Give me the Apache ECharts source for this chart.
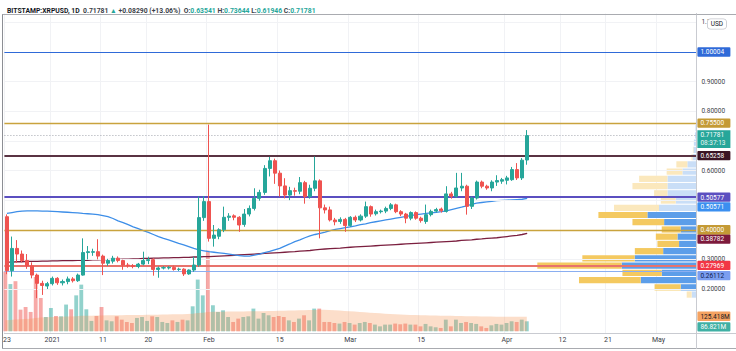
<!DOCTYPE html>
<html>
<head>
<meta charset="utf-8">
<script src="https://cdn.jsdelivr.net/npm/echarts@6.0.0/dist/echarts.min.js"></script>
<style>
html,body{margin:0;padding:0;background:#ffffff;}
#chart{width:736px;height:351px;}
</style>
</head>
<body>
<div id="chart"></div>
<script>
// ================= DATA =================
const firstDay = '2020-12-23';
const dayCount = 137; // visible days on the time axis (Dec 23 .. May 8)
const timeTickLabels = {
  '2020-12-23': '23', '2021-01-01': '2021', '2021-01-11': '11', '2021-01-20': '20',
  '2021-02-01': 'Feb', '2021-02-15': '15', '2021-03-01': 'Mar', '2021-03-15': '15',
  '2021-04-01': 'Apr', '2021-04-12': '12', '2021-04-21': '21', '2021-05-01': 'May'
};
// [open, close, low, high] per day starting Dec 23 2020
const ohlc = [
  [.444,.262,.250,.452],[.262,.337,.242,.377],[.337,.318,.288,.365],[.318,.296,.290,.330],[.296,.278,.268,.318],
  [.278,.247,.236,.290],[.247,.219,.169,.252],[.219,.212,.180,.228],[.210,.218,.200,.224],[.218,.236,.212,.242],
  [.236,.221,.214,.240],[.221,.225,.212,.232],[.225,.234,.216,.242],[.234,.228,.222,.240],[.228,.247,.224,.252],
  [.247,.323,.245,.371],[.323,.326,.300,.345],[.324,.326,.312,.336],[.326,.311,.300,.368],[.311,.287,.247,.316],
  [.287,.296,.278,.302],[.294,.304,.286,.312],[.304,.296,.290,.310],[.296,.281,.265,.299],[.281,.279,.272,.288],
  [.279,.276,.270,.284],[.276,.284,.270,.288],[.284,.296,.280,.326],[.296,.299,.284,.309],[.299,.266,.245,.304],
  [.266,.271,.238,.276],[.271,.272,.266,.277],[.271,.273,.266,.277],[.273,.266,.262,.279],[.266,.267,.261,.272],
  [.267,.251,.244,.270],[.251,.264,.248,.266],[.264,.281,.258,.309],[.281,.441,.275,.512],[.441,.495,.430,.514],
  [.495,.371,.360,.755],[.371,.382,.343,.416],[.378,.400,.368,.405],[.400,.442,.392,.478],[.442,.446,.430,.456],
  [.447,.442,.432,.452],[.442,.416,.393,.446],[.418,.453,.410,.470],[.453,.472,.445,.482],[.472,.506,.465,.540],
  [.506,.526,.498,.535],[.526,.607,.518,.618],[.607,.633,.580,.646],[.633,.591,.555,.640],[.591,.548,.512,.600],
  [.548,.517,.506,.574],[.517,.532,.500,.545],[.532,.530,.515,.542],[.530,.559,.520,.578],[.559,.512,.488,.565],
  [.512,.540,.505,.552],[.540,.565,.530,.647],[.565,.474,.371,.570],[.474,.467,.455,.485],[.467,.433,.428,.478],
  [.433,.427,.415,.440],[.428,.435,.420,.442],[.435,.414,.393,.440],[.414,.442,.410,.446],[.442,.433,.426,.448],
  [.433,.446,.428,.452],[.446,.478,.440,.495],[.478,.453,.444,.482],[.454,.461,.448,.468],[.461,.463,.455,.468],
  [.463,.472,.456,.478],[.472,.484,.466,.490],[.484,.461,.456,.488],[.461,.453,.446,.466],[.453,.439,.422,.457],
  [.439,.458,.432,.462],[.458,.439,.434,.462],[.439,.431,.424,.444],[.428,.451,.420,.485],[.451,.462,.445,.468],
  [.463,.468,.458,.474],[.470,.464,.458,.475],[.462,.521,.458,.547],[.521,.513,.505,.528],[.513,.541,.508,.592],
  [.541,.547,.530,.592],[.547,.479,.451,.552],[.479,.507,.470,.512],[.507,.561,.502,.566],[.561,.547,.540,.566],
  [.547,.541,.535,.552],[.541,.561,.530,.567],[.561,.566,.548,.584],[.564,.569,.555,.575],[.567,.575,.553,.582],
  [.569,.603,.565,.612],[.603,.575,.568,.625],[.575,.63491,.568,.642],[.63541,.71781,.61946,.73644]
];
// volume, millions
const volume = [
  520,410,435,188,211,168,471,289,124,202,
  133,130,232,191,312,405,191,90,133,211,
  95,87,130,101,81,72,116,124,90,130,
  124,81,72,95,81,101,95,217,449,312,
  700,226,168,182,124,81,110,124,130,197,
  110,159,139,124,133,124,95,81,110,139,
  95,197,197,81,81,72,67,81,72,58,
  72,81,72,58,43,58,58,67,61,67,
  58,58,43,64,43,35,29,101,43,101,
  72,81,72,64,43,29,52,64,58,72,
  87,81,101,86.821
];
// volume moving average, millions
const volumeMA = [
  95,98,102,104,106,110,116,120,122,124,
  125,126,128,129,131,135,136,136,137,138,
  139,139,140,140,141,141,142,142,143,144,
  144,145,146,147,148,149,150,152,158,162,
  168,169,170,170,171,171,172,172,173,173,
  174,175,176,177,178,179,180,181,182,183,
  184,185,186,186,185,183,180,177,174,171,
  168,165,162,159,156,153,150,148,146,144,
  142,141,140,139,138,137,136,135,134,133,
  132,131,130,130,129,129,128,127,127,126,
  126,125.8,125.6,125.418
];
// blue moving average
const maFast = [
  .455,.458,.461,.463,.464,.464,.464,.463,.463,.462,
  .461,.460,.459,.458,.457,.455,.454,.453,.451,.448,
  .444,.438,.430,.424,.417,.410,.404,.397,.391,.384,
  .377,.371,.366,.360,.354,.349,.343,.337,.332,.329,
  .326,.324,.322,.320,.318,.315,.313,.311,.311,.314,
  .318,.323,.327,.332,.337,.345,.352,.360,.366,.373,
  .379,.384,.388,.392,.397,.401,.404,.407,.410,.413,
  .417,.420,.424,.427,.430,.433,.436,.439,.442,.445,
  .448,.451,.453,.455,.457,.459,.461,.464,.468,.472,
  .476,.481,.486,.490,.492,.494,.496,.498,.499,.500,
  .501,.502,.503,.50571
];
// maroon moving average
const maSlow = [
  .291,.291,.292,.292,.293,.293,.293,.294,.294,.295,
  .295,.296,.296,.296,.297,.297,.297,.298,.298,.299,
  .299,.300,.300,.301,.301,.302,.302,.303,.303,.304,
  .304,.305,.305,.306,.306,.307,.307,.308,.308,.309,
  .309,.310,.311,.312,.313,.314,.315,.316,.317,.318,
  .319,.320,.321,.322,.323,.324,.325,.326,.328,.329,
  .330,.332,.334,.335,.336,.337,.338,.340,.341,.342,
  .343,.344,.345,.346,.347,.348,.349,.350,.351,.352,
  .353,.354,.355,.356,.357,.358,.359,.360,.361,.362,
  .364,.365,.366,.368,.369,.371,.372,.373,.375,.377,
  .379,.381,.384,.38782
];
const priceGridTicks = [0.2,0.3,0.4,0.5,0.6,0.7,0.8,0.9,1.0,1.1];
const priceLabelTicks = [0.2,0.3,0.6,0.8,0.9,1.1]; // the ones not hidden by tags
const levelValues = [1.00004, 0.755, 0.65258, 0.50577, 0.40000, 0.27969, 0.26112];
const lastPrice = 0.71781;
const countdown = '08:37:13';
// visible-range volume profile (24 rows between range low and high), relative units
const profileRange = [0.169, 0.755];
const profileUp   = [3.0, 9.9,35.0,21.8,47.0,38.8,20.9,10.9,11.9, 9.9,20.3,30.8,23.5,13.0,18.2,18.2,18.2, 8.8,5.7,2.5,1.9,1.6,0.9,0.6];
const profileDown = [3.1,16.4,38.8,24.7,53.0,32.9,17.8,13.6,13.6,11.9,19.9,30.8,28.3, 9.4, 8.4,22.0,17.8, 9.9,6.9,0.6,0.3,0,0,0];
const valueAreaRows = [1, 11];
const header = {
  symbol: 'BITSTAMP:XRPUSD, 1D', last: '0.71781', change: '+0.08290 (+13.06%)',
  o: '0.63541', h: '0.73644', l: '0.61946', c: '0.71781'
};

// ================= STYLE / LAYOUT =================
const FONT = 'Roboto, "Liberation Sans", Arial, sans-serif';
const UP = '#26a69a', DOWN = '#ef5350';
const levelLine = [
  {color:'#2f6ad8', width:1.2}, {color:'#c9a33d', width:1.4}, {color:'#5a3343', width:1.8},
  {color:'#5b4fc0', width:1.8}, {color:'#c9a33d', width:1.4}, {color:'#e8736c', width:2.2}, {color:'#8aaef0', width:1.2}
];
const levelTag = [
  {bg:'#2f6ad8', fg:'#ffffff', dy:0}, {bg:'#c49a35', fg:'#ffffff', dy:0}, {bg:'#3b1525', fg:'#ffffff', dy:0},
  {bg:'#5b4fc0', fg:'#ffffff', dy:0}, {bg:'#c49a35', fg:'#ffffff', dy:0}, {bg:'#f23645', fg:'#ffffff', dy:0},
  {bg:'#7b9ef0', fg:'#0d1b4f', dy:4.3}
];
const GRID_LEFT = 2.8, GRID_W = 693.6, PRICE_TOP = 13.49, PRICE_H = 319.95;
const PRICE_MIN = 0.05, PRICE_MAX = 1.13;
const VOL_BOTTOM = 19.7, VOL_H = 100, VOL_MAX = 868;
const PROFILE_MAX = 436;
const TAG_FONT = 6.5;

// tag on the price scale: a spacer line shifts the tag down (dy>0) or up (dy<0)
function axisTag(text, bg, fg, dy) {
  const rich = {
    v: {fontFamily: FONT, fontSize: TAG_FONT, color: fg, backgroundColor: bg, padding: [1.5, 3, 0.8, 3],
        width: 27, borderRadius: 1}
  };
  let fmt = '{v|' + text + '}';
  if (dy > 0) { rich.s = {fontSize: 1, lineHeight: 2 * dy}; fmt = '{s| }\n' + fmt; }
  if (dy < 0) { rich.s = {fontSize: 1, lineHeight: -2 * dy}; fmt = fmt + '\n{s| }'; }
  return {show: true, position: 'end', distance: 1, formatter: fmt, rich: rich};
}
const hiddenLine = {width: 0, color: 'rgba(0,0,0,0)'};

// ================= BUILD =================
const categories = [];
{
  const t0 = Date.parse(firstDay + 'T00:00:00Z');
  for (let i = 0; i < dayCount; i++) categories.push(new Date(t0 + i * 864e5).toISOString().slice(0, 10));
}
const isTick = (idx, val) => Object.prototype.hasOwnProperty.call(timeTickLabels, val);

const levelMarks = levelValues.map((v, i) => ({
  yAxis: v,
  lineStyle: {color: levelLine[i].color, width: levelLine[i].width, type: 'solid'},
  label: axisTag(v.toFixed(5), levelTag[i].bg, levelTag[i].fg, levelTag[i].dy)
}));
// current price: two-line tag, first line centred on the price
levelMarks.push({
  yAxis: lastPrice,
  lineStyle: {color: '#a3a6ae', width: 1, type: [1, 2]},
  label: {
    show: true, position: 'end', distance: 1,
    formatter: '{s| }\n{v|' + lastPrice.toFixed(5) + '}\n{c|' + countdown + '}',
    rich: {
      s: {fontSize: 1, lineHeight: 8.3},
      v: {fontFamily: FONT, fontSize: TAG_FONT, color: '#ffffff', backgroundColor: UP, padding: [1.5, 3, 0.3, 3], width: 27},
      c: {fontFamily: FONT, fontSize: TAG_FONT, color: '#e8f6f4', backgroundColor: UP, padding: [0.3, 3, 1.5, 3], width: 27}
    }
  }
});

const candleData = ohlc.map(d => [d[0], d[1], d[2], d[3]]);
const volData = volume.map((v, i) => ({
  value: v,
  itemStyle: {color: ohlc[i][1] >= ohlc[i][0] ? 'rgba(38,166,154,0.5)' : 'rgba(239,83,80,0.5)'}
}));

const rowStep = (profileRange[1] - profileRange[0]) / profileUp.length;
const profileData = profileUp.map((u, i) => [
  profileRange[0] + i * rowStep, profileRange[0] + (i + 1) * rowStep, u, profileDown[i],
  (i >= valueAreaRows[0] && i <= valueAreaRows[1]) ? 1 : 0
]);

const lastVol = volume[volume.length - 1];
const lastVolMA = volumeMA[volumeMA.length - 1];

const chart = echarts.init(document.getElementById('chart'), null, {renderer: 'svg', width: 736, height: 351});

const option = {
  animation: false,
  backgroundColor: '#ffffff',
  title: {
    left: 2, top: 2.5,
    text: '{b|' + header.symbol + '}  {d|' + header.last + '} {g|▲} {d|' + header.change + '}  ' +
          '{d|O:}{g|' + header.o + '} {d|H:}{g|' + header.h + '} {d|L:}{g|' + header.l + '} {d|C:}{g|' + header.c + '}',
    textStyle: {
      fontFamily: FONT, fontSize: 6.8,
      rich: {
        b: {fontFamily: FONT, fontSize: 6.8, fontWeight: 'bold', color: '#131722'},
        d: {fontFamily: FONT, fontSize: 6.8, color: '#3b3e47'},
        g: {fontFamily: FONT, fontSize: 6.8, color: UP}
      }
    }
  },
  grid: [
    {left: GRID_LEFT, top: PRICE_TOP, width: GRID_W, height: PRICE_H},
    {left: GRID_LEFT, bottom: VOL_BOTTOM, width: GRID_W, height: VOL_H},
    {left: GRID_LEFT, top: PRICE_TOP, width: GRID_W, height: PRICE_H}
  ],
  xAxis: [
    {
      type: 'category', gridIndex: 0, data: categories, boundaryGap: true,
      axisLine: {show: true, lineStyle: {color: '#c9cbd1'}},
      axisTick: {show: false},
      axisLabel: {
        interval: isTick, formatter: v => timeTickLabels[v] || '', fontFamily: FONT, fontSize: 7,
        color: '#3b3e47', margin: 3.5
      },
      splitLine: {show: true, interval: isTick, lineStyle: {color: '#f1f2f5', width: 1}}
    },
    {type: 'category', gridIndex: 1, data: categories, boundaryGap: true, show: false},
    {type: 'value', gridIndex: 2, min: 0, max: PROFILE_MAX, inverse: true, show: false}
  ],
  yAxis: [
    {
      type: 'value', gridIndex: 0, position: 'right', min: PRICE_MIN, max: PRICE_MAX, scale: true,
      axisLine: {show: true, lineStyle: {color: '#c9cbd1'}},
      axisTick: {show: false},
      axisLabel: {
        customValues: priceLabelTicks, formatter: v => v.toFixed(5), fontFamily: FONT, fontSize: TAG_FONT,
        color: '#3b3e47', margin: 5
      },
      splitLine: {show: false}
    },
    {type: 'value', gridIndex: 1, min: 0, max: VOL_MAX, show: false},
    {type: 'value', gridIndex: 2, min: PRICE_MIN, max: PRICE_MAX, show: false}
  ],
  series: [
    { // horizontal price grid lines
      type: 'line', xAxisIndex: 0, yAxisIndex: 0, data: [], silent: true, z: 0,
      markLine: {
        symbol: 'none', silent: true, label: {show: false},
        lineStyle: {color: '#f1f2f5', width: 1, type: 'solid'},
        data: priceGridTicks.map(v => ({yAxis: v}))
      }
    },
    {
      type: 'custom', xAxisIndex: 2, yAxisIndex: 2, data: profileData, silent: true, z: 1, clip: false,
      encode: {x: [2, 3], y: [0, 1]},
      renderItem: (params, api) => {
        const lo = api.value(0), hi = api.value(1), up = api.value(2), dn = api.value(3), va = api.value(4);
        const a = api.coord([0, hi]);
        const b = api.coord([up, lo]);
        const c = api.coord([up + dn, lo]);
        const top = a[1] + 0.5, h = Math.max(b[1] - a[1] - 1, 0.5);
        return {type: 'group', children: [
          {type: 'rect', shape: {x: b[0], y: top, width: a[0] - b[0], height: h},
           style: {fill: va ? '#5c9ee9' : '#c9def7'}},
          {type: 'rect', shape: {x: c[0], y: top, width: b[0] - c[0], height: h},
           style: {fill: va ? '#f4c960' : '#fbe8bd'}}
        ]};
      }
    },
    {
      type: 'bar', xAxisIndex: 1, yAxisIndex: 1, data: volData, barWidth: '76%', silent: true, z: 2,
      markLine: {
        symbol: 'none', silent: true,
        data: [{yAxis: lastVol, lineStyle: hiddenLine, label: axisTag(lastVol.toFixed(3) + 'M', '#3fb0a4', '#ffffff', 5.6)}]
      }
    },
    {
      type: 'line', xAxisIndex: 1, yAxisIndex: 1, data: volumeMA, symbol: 'none', silent: true, z: 3,
      lineStyle: {width: 0, color: 'rgba(0,0,0,0)'},
      areaStyle: {color: 'rgba(245,150,85,0.45)'},
      markLine: {
        symbol: 'none', silent: true,
        data: [{yAxis: lastVolMA, lineStyle: hiddenLine, label: axisTag(lastVolMA.toFixed(3) + 'M', '#f4a261', '#131722', -0.6)}]
      }
    },
    {
      type: 'line', xAxisIndex: 0, yAxisIndex: 0, data: maSlow, symbol: 'none', silent: true, z: 4,
      lineStyle: {color: '#7b1f3f', width: 1.3},
      markLine: {
        symbol: 'none', silent: true,
        data: [{yAxis: maSlow[maSlow.length - 1], lineStyle: hiddenLine,
                label: axisTag(maSlow[maSlow.length - 1].toFixed(5), '#7d1a3c', '#ffffff', 6.3)}]
      }
    },
    {
      type: 'line', xAxisIndex: 0, yAxisIndex: 0, data: maFast, symbol: 'none', silent: true, z: 4,
      lineStyle: {color: '#3d8ee8', width: 1.3},
      markLine: {
        symbol: 'none', silent: true,
        data: [{yAxis: maFast[maFast.length - 1], lineStyle: hiddenLine,
                label: axisTag(maFast[maFast.length - 1].toFixed(5), '#3b8ff0', '#ffffff', 9.8)}]
      }
    },
    {
      type: 'candlestick', xAxisIndex: 0, yAxisIndex: 0, data: candleData, barWidth: '70%', silent: true, z: 5,
      itemStyle: {color: UP, color0: DOWN, borderColor: UP, borderColor0: DOWN, borderWidth: 1},
      markLine: {symbol: 'none', silent: true, data: levelMarks}
    }
  ],
  graphic: [
    {type: 'line', z: 50, silent: true, shape: {x1: 2, y1: 14.5, x2: 736, y2: 14.5}, style: {stroke: '#a9abb0', lineWidth: 1}},
    {type: 'line', z: 50, silent: true, shape: {x1: 2.5, y1: 14.5, x2: 2.5, y2: 349}, style: {stroke: '#8c8e94', lineWidth: 1}},
    {type: 'line', z: 50, silent: true, shape: {x1: 2, y1: 348.5, x2: 736, y2: 348.5}, style: {stroke: '#a9abb0', lineWidth: 1}},
    {type: 'line', z: 50, silent: true, shape: {x1: 696.5, y1: 14.5, x2: 696.5, y2: 349}, style: {stroke: '#c9cbd1', lineWidth: 1}},
    {type: 'line', z: 50, silent: true, shape: {x1: 696.5, y1: 333.5, x2: 736, y2: 333.5}, style: {stroke: '#c9cbd1', lineWidth: 1}},
    {type: 'text', z: 60, silent: true, left: 707, top: 18.5,
     style: {text: 'USD', fontFamily: FONT, fontSize: 6.5, fill: '#131722', backgroundColor: '#ffffff',
             borderColor: '#c4c6cc', borderWidth: 0.8, borderRadius: 3, padding: [1.5, 3, 1, 3]}}
  ]
};
chart.setOption(option);
</script>
</body>
</html>
